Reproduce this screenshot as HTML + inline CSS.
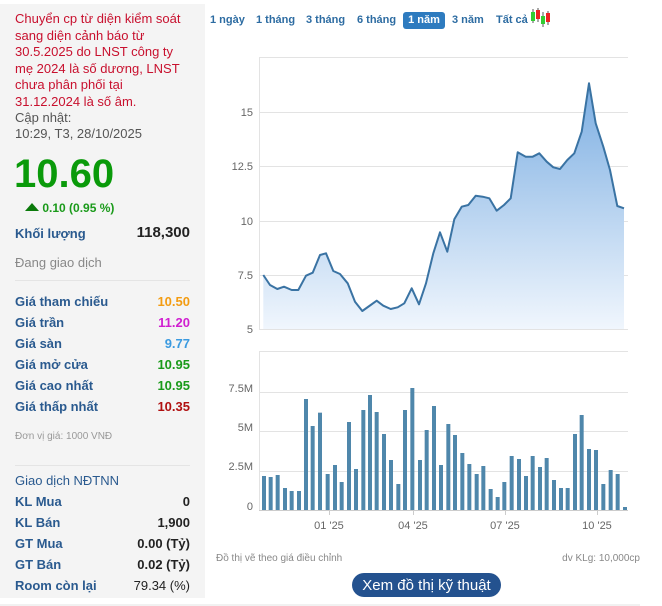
<!DOCTYPE html>
<html><head><meta charset="utf-8"><style>
body{margin:0;width:662px;height:606px;background:#fff;font-family:"Liberation Sans",Arial,sans-serif;position:relative;overflow:hidden}
.l{position:absolute;left:0;top:4px;width:205px;height:594px;background:#f4f4f4}
.a{position:absolute;white-space:nowrap}
.red{color:#c8102e;font-size:13px;line-height:16.5px;left:15px;top:11px}
.g{color:#555;font-size:13px;line-height:16px}
.row{position:absolute;left:15px;width:175px;font-size:13px;font-weight:bold;color:#2a5a8f}
.row span{position:absolute;right:0}
.tab{position:absolute;top:12px;height:17px;line-height:17px;font-size:11px;font-weight:bold;color:#2d6ca2}
</style></head><body>
<div class="l"></div>
<div class="a red">Chuyển cp từ diện kiểm soát<br>sang diện cảnh báo từ<br>30.5.2025 do LNST công ty<br>mẹ 2024 là số dương, LNST<br>chưa phân phối tại<br>31.12.2024 là số âm.</div>
<div class="a g" style="left:15px;top:110px">Cập nhật:<br>10:29, T3, 28/10/2025</div>
<div class="a" style="left:14px;top:152px;font-size:40px;font-weight:bold;color:#0a9a0a">10.60</div>
<div class="a" style="left:25px;top:201px;font-size:12px;font-weight:bold;color:#1a9a1a"><span style="display:inline-block;width:0;height:0;border-left:7px solid transparent;border-right:7px solid transparent;border-bottom:8px solid #0b7a0b;vertical-align:1px"></span> 0.10 (0.95 %)</div>
<div class="row" style="top:226px;font-size:13px">Khối lượng<span style="color:#222;font-size:15px;top:-2px">118,300</span></div>
<div class="a" style="left:15px;top:255px;font-size:13px;color:#888">Đang giao dịch</div>
<div class="a" style="left:15px;top:280px;width:175px;border-top:1px solid #e4e4e4"></div>
<div class="row" style="top:294px">Giá tham chiếu<span style="color:#f39c12">10.50</span></div>
<div class="row" style="top:315px">Giá trần<span style="color:#d020d0">11.20</span></div>
<div class="row" style="top:336px">Giá sàn<span style="color:#3a9ae0">9.77</span></div>
<div class="row" style="top:357px">Giá mở cửa<span style="color:#1a9a1a">10.95</span></div>
<div class="row" style="top:378px">Giá cao nhất<span style="color:#1a9a1a">10.95</span></div>
<div class="row" style="top:399px">Giá thấp nhất<span style="color:#b01010">10.35</span></div>
<div class="a" style="left:15px;top:431px;font-size:10px;color:#999">Đơn vị giá: 1000 VNĐ</div>
<div class="a" style="left:15px;top:465px;width:175px;border-top:1px solid #e4e4e4"></div>
<div class="row" style="top:473px;font-weight:normal">Giao dịch NĐTNN</div>
<div class="row" style="top:494px">KL Mua<span style="color:#222">0</span></div>
<div class="row" style="top:515px">KL Bán<span style="color:#222">1,900</span></div>
<div class="row" style="top:536px">GT Mua<span style="color:#222">0.00 (Tỷ)</span></div>
<div class="row" style="top:557px">GT Bán<span style="color:#222">0.02 (Tỷ)</span></div>
<div class="row" style="top:578px">Room còn lại<span style="color:#222;font-weight:normal">79.34 (%)</span></div>

<div class="tab" style="left:210px">1 ngày</div>
<div class="tab" style="left:256px">1 tháng</div>
<div class="tab" style="left:306px">3 tháng</div>
<div class="tab" style="left:357px">6 tháng</div>
<div class="tab" style="left:403px;width:42px;text-align:center;background:#2e7bbf;color:#fff;border-radius:3px">1 năm</div>
<div class="tab" style="left:452px">3 năm</div>
<div class="tab" style="left:496px">Tất cả</div>
<svg class="a" style="left:530px;top:8px" width="22" height="20">
<line x1="3" y1="1" x2="3" y2="15" stroke="#555"/><rect x="1" y="4" width="4" height="9" fill="#3c3"/>
<line x1="8" y1="0" x2="8" y2="14" stroke="#555"/><rect x="6" y="2" width="4" height="9" fill="#e22"/>
<line x1="13" y1="4" x2="13" y2="19" stroke="#555"/><rect x="11" y="8" width="4" height="8" fill="#3c3"/>
<line x1="18" y1="3" x2="18" y2="17" stroke="#555"/><rect x="16" y="5" width="4" height="9" fill="#e22"/>
</svg>

<svg class="a" style="left:0;top:0" width="662" height="606" id="s">
<defs><linearGradient id="gr" gradientUnits="userSpaceOnUse" x1="0" y1="57" x2="0" y2="329"><stop offset="0" stop-color="#6fa6df"/><stop offset="1" stop-color="#f0f6fd"/></linearGradient></defs>
<g stroke="#e3e3e3" stroke-width="1">
<line x1="259" y1="57.5" x2="628" y2="57.5"/><line x1="259" y1="112.5" x2="628" y2="112.5"/><line x1="259" y1="166.5" x2="628" y2="166.5"/><line x1="259" y1="221.5" x2="628" y2="221.5"/><line x1="259" y1="275.5" x2="628" y2="275.5"/><line x1="259" y1="329.5" x2="628" y2="329.5"/>
<line x1="259.5" y1="57" x2="259.5" y2="330"/>
<line x1="259" y1="351.5" x2="628" y2="351.5"/><line x1="259" y1="392.5" x2="628" y2="392.5"/><line x1="259" y1="431.5" x2="628" y2="431.5"/><line x1="259" y1="471.5" x2="628" y2="471.5"/>
<line x1="259.5" y1="351" x2="259.5" y2="510"/>
</g>
<line x1="259" y1="510.5" x2="628" y2="510.5" stroke="#ccc"/>
<g stroke="#ccc"><line x1="329.5" y1="510" x2="329.5" y2="515"/><line x1="413.5" y1="510" x2="413.5" y2="515"/><line x1="505.5" y1="510" x2="505.5" y2="515"/><line x1="597.5" y1="510" x2="597.5" y2="515"/></g>
<g font-size="11" fill="#666" text-anchor="end">
<text x="253" y="116">15</text><text x="253" y="170">12.5</text><text x="253" y="225">10</text><text x="253" y="279">7.5</text><text x="253" y="333">5</text>
<text x="253" y="392">7.5M</text><text x="253" y="431">5M</text><text x="253" y="470">2.5M</text><text x="253" y="510">0</text>
</g>
<g font-size="11" fill="#666" text-anchor="middle">
<text x="329" y="529">01 '25</text><text x="413" y="529">04 '25</text><text x="505" y="529">07 '25</text><text x="597" y="529">10 '25</text>
</g>
<path id="area" fill="url(#gr)" stroke="none"/>
<path id="ln" fill="none" stroke="#3a73a3" stroke-width="2" stroke-linejoin="round"/>
<g id="bars" fill="#4f87ab"></g>
<text x="216" y="561" font-size="10" fill="#888">Đồ thị vẽ theo giá điều chỉnh</text>
<text x="640" y="561" font-size="10" fill="#888" text-anchor="end">dv KLg: 10,000cp</text>
<rect x="352" y="573" width="149" height="24" rx="12" fill="#24528f"/>
<text x="426.5" y="590" font-size="15" fill="#fff" text-anchor="middle">Xem đồ thị kỹ thuật</text>
<line x1="0" y1="605" x2="640" y2="605" stroke="#e3e3e3"/>
</svg>
<script>
var p=[[263.3,275],[270,285],[277.3,289],[284,286.7],[291.7,290],[298.3,290],[306,275.7],[312.7,272.7],[320,255],[326,253.3],[333.3,271],[340,274],[347.7,283.3],[355,301.7],[362.3,311],[369.3,306],[376.7,300.7],[383.3,305.7],[390.7,309],[397.7,307.3],[404.3,303.3],[411.7,288.3],[419,304.3],[426,283.3],[433.3,253.3],[440,232.3],[447.3,251.7],[454.3,219.3],[461.7,206.7],[468.3,205],[475.7,195.7],[482.7,196.7],[489.3,198.3],[496.7,210.7],[504,205],[510.7,198.3],[517.7,152.3],[525.7,156.7],[532.7,156.7],[539.3,153.3],[546.7,161.7],[553.3,167.3],[560,169],[567.3,160],[574.3,153.3],[581.7,131.7],[589,83.3],[595.7,123.3],[603.3,146.7],[610,170],[617.3,206],[624,208.3]];
var d="M"+p.map(function(q){return q[0]+","+q[1]}).join(" L");
document.getElementById("ln").setAttribute("d",d);
document.getElementById("area").setAttribute("d",d+" L624,329 L263.3,329 Z");
var cx=[192,212,233,255,275,297,318,338,360,383,405,425,447,468,490,510,530,552,573,595,615,637,660,680,702,723,745,765,787,808,830,850,872,893,913,935,957,978,998,1020,1040,1062,1083,1103,1125,1145,1167,1188,1210,1232,1253,1275];
var tp=[408,411,405,444,453,453,177,258,218,402,375,426,246,387,210,165,216,282,360,432,210,144,360,270,198,375,252,285,339,372,402,378,447,471,426,348,357,408,348,381,354,420,444,444,282,225,327,330,432,390,402,501];
var h="";for(var i=0;i<cx.length;i++){var y=340+tp[i]/3;h+='<rect x="'+(cx[i]/3+198)+'" y="'+y+'" width="4" height="'+(510-y)+'"/>';}
document.getElementById("bars").innerHTML=h;
</script>
</body></html>
